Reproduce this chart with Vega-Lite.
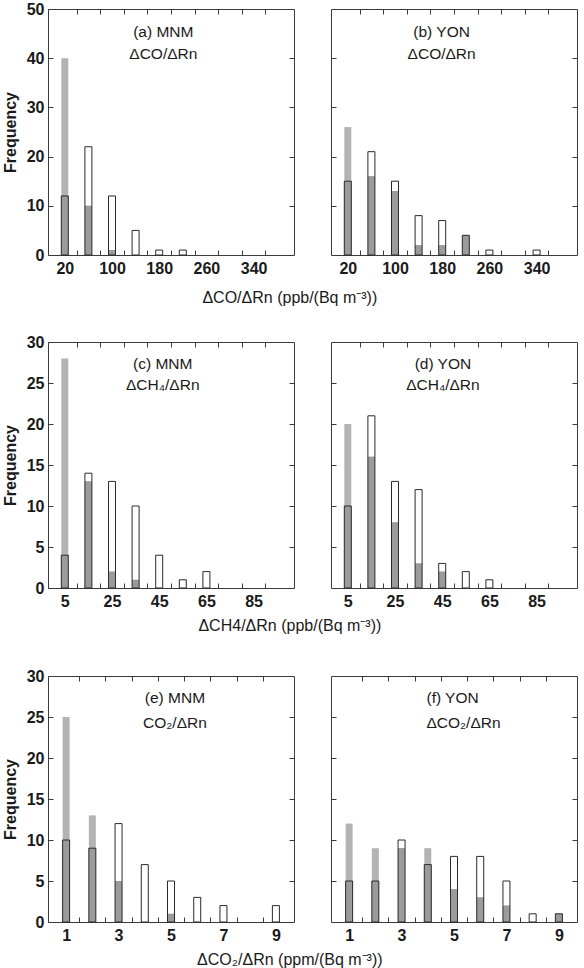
{
  "$schema": "https://vega.github.io/schema/vega-lite/v6.json",
  "padding": {"left": 1, "top": 0, "right": 0, "bottom": 0},
  "background": "white",
  "datasets": {
    "bins": [
      {"panel": "a", "bin": 20, "filled": 40, "both": 12, "outlined": 12},
      {"panel": "a", "bin": 60, "filled": 10, "both": 10, "outlined": 22},
      {"panel": "a", "bin": 100, "filled": 1, "both": 1, "outlined": 12},
      {"panel": "a", "bin": 140, "filled": 0, "both": 0, "outlined": 5},
      {"panel": "a", "bin": 180, "filled": 0, "both": 0, "outlined": 1},
      {"panel": "a", "bin": 220, "filled": 0, "both": 0, "outlined": 1},
      {"panel": "b", "bin": 20, "filled": 26, "both": 15, "outlined": 15},
      {"panel": "b", "bin": 60, "filled": 16, "both": 16, "outlined": 21},
      {"panel": "b", "bin": 100, "filled": 13, "both": 13, "outlined": 15},
      {"panel": "b", "bin": 140, "filled": 2, "both": 2, "outlined": 8},
      {"panel": "b", "bin": 180, "filled": 2, "both": 2, "outlined": 7},
      {"panel": "b", "bin": 220, "filled": 4, "both": 4, "outlined": 4},
      {"panel": "b", "bin": 260, "filled": 0, "both": 0, "outlined": 1},
      {"panel": "b", "bin": 340, "filled": 0, "both": 0, "outlined": 1},
      {"panel": "c", "bin": 5, "filled": 28, "both": 4, "outlined": 4},
      {"panel": "c", "bin": 15, "filled": 13, "both": 13, "outlined": 14},
      {"panel": "c", "bin": 25, "filled": 2, "both": 2, "outlined": 13},
      {"panel": "c", "bin": 35, "filled": 1, "both": 1, "outlined": 10},
      {"panel": "c", "bin": 45, "filled": 0, "both": 0, "outlined": 4},
      {"panel": "c", "bin": 55, "filled": 0, "both": 0, "outlined": 1},
      {"panel": "c", "bin": 65, "filled": 0, "both": 0, "outlined": 2},
      {"panel": "d", "bin": 5, "filled": 20, "both": 10, "outlined": 10},
      {"panel": "d", "bin": 15, "filled": 16, "both": 16, "outlined": 21},
      {"panel": "d", "bin": 25, "filled": 8, "both": 8, "outlined": 13},
      {"panel": "d", "bin": 35, "filled": 3, "both": 3, "outlined": 12},
      {"panel": "d", "bin": 45, "filled": 2, "both": 2, "outlined": 3},
      {"panel": "d", "bin": 55, "filled": 0, "both": 0, "outlined": 2},
      {"panel": "d", "bin": 65, "filled": 0, "both": 0, "outlined": 1},
      {"panel": "e", "bin": 1, "filled": 25, "both": 10, "outlined": 10},
      {"panel": "e", "bin": 2, "filled": 13, "both": 9, "outlined": 9},
      {"panel": "e", "bin": 3, "filled": 5, "both": 5, "outlined": 12},
      {"panel": "e", "bin": 4, "filled": 0, "both": 0, "outlined": 7},
      {"panel": "e", "bin": 5, "filled": 1, "both": 1, "outlined": 5},
      {"panel": "e", "bin": 6, "filled": 0, "both": 0, "outlined": 3},
      {"panel": "e", "bin": 7, "filled": 0, "both": 0, "outlined": 2},
      {"panel": "e", "bin": 9, "filled": 0, "both": 0, "outlined": 2},
      {"panel": "f", "bin": 1, "filled": 12, "both": 5, "outlined": 5},
      {"panel": "f", "bin": 2, "filled": 9, "both": 5, "outlined": 5},
      {"panel": "f", "bin": 3, "filled": 9, "both": 9, "outlined": 10},
      {"panel": "f", "bin": 4, "filled": 9, "both": 7, "outlined": 7},
      {"panel": "f", "bin": 5, "filled": 4, "both": 4, "outlined": 8},
      {"panel": "f", "bin": 6, "filled": 3, "both": 3, "outlined": 8},
      {"panel": "f", "bin": 7, "filled": 2, "both": 2, "outlined": 5},
      {"panel": "f", "bin": 8, "filled": 0, "both": 0, "outlined": 1},
      {"panel": "f", "bin": 9, "filled": 1, "both": 1, "outlined": 1}
    ],
    "labels": [
      {"panel": "a", "site": "(a) MNM", "ratio": "ΔCO/ΔRn"},
      {"panel": "b", "site": "(b) YON", "ratio": "ΔCO/ΔRn"},
      {"panel": "c", "site": "(c) MNM", "ratio": "ΔCH₄/ΔRn"},
      {"panel": "d", "site": "(d) YON", "ratio": "ΔCH₄/ΔRn"},
      {"panel": "e", "site": "(e) MNM", "ratio": "CO₂/ΔRn"},
      {"panel": "f", "site": "(f) YON", "ratio": "ΔCO₂/ΔRn"}
    ]
  },
  "data": {"name": "bins"},
  "config": {
    "font": "Liberation Sans",
    "view": {"stroke": "#3a3a3a", "strokeWidth": 1},
    "axis": {
      "domain": false,
      "grid": false,
      "tickColor": "#3a3a3a",
      "tickSize": -5,
      "tickWidth": 1,
      "labelFont": "Liberation Sans",
      "labelFontSize": 16,
      "labelFontWeight": "bold",
      "labelColor": "#1a1a1a",
      "labelPadding": 10,
      "labelFlush": false,
      "labelOverlap": false,
      "titleFont": "Liberation Sans",
      "titleFontSize": 16,
      "titleFontWeight": "bold",
      "titleColor": "#1a1a1a"
    },
    "title": {"font": "Liberation Sans", "fontSize": 16, "fontWeight": "normal", "color": "#1a1a1a", "anchor": "middle"},
    "text": {"font": "Liberation Sans", "fontSize": 15.5, "color": "#1a1a1a"},
    "concat": {"spacing": 35}
  },
  "spacing": 27,
  "vconcat": [
    {
      "title": {"text": "ΔCO/ΔRn (ppb/(Bq m⁻³))", "orient": "bottom", "offset": 13},
      "hconcat": [
        {
          "width": 246, "height": 246,
          "transform": [{"filter": "datum.panel == 'a'"}],
          "layer": [
            {"mark": {"type": "bar", "size": 7, "orient": "vertical", "color": "#b3b3b3"},
             "encoding": {
               "x": {"field": "bin", "type": "quantitative", "scale": {"domain": [0, 400], "nice": false, "zero": false},
                     "axis": {"orient": "bottom", "title": null, "values": [20, 40, 80, 100, 120, 160, 180, 200, 240, 260, 280, 320, 340, 360],
                              "labelExpr": "(datum.value - 20) % 80 == 0 ? datum.label : ''",
                              "tickOpacity": {"condition": {"test": "datum.value % 40 != 0", "value": 0}, "value": 1}}},
               "y": {"field": "filled", "type": "quantitative", "scale": {"domain": [0, 50], "nice": false},
                     "axis": {"orient": "left", "title": "Frequency", "values": [0, 10, 20, 30, 40, 50], "labelPadding": 9, "titlePadding": 8}}}},
            {"mark": {"type": "bar", "size": 7, "orient": "vertical", "color": "#9b9b9b"},
             "encoding": {
               "x": {"field": "bin", "type": "quantitative", "axis": {"orient": "top", "title": null, "labels": false, "values": [40, 80, 120, 160, 200, 240, 280, 320, 360]}},
               "y": {"field": "both", "type": "quantitative", "axis": {"orient": "right", "title": null, "labels": false, "values": [10, 20, 30, 40]}}}},
            {"mark": {"type": "bar", "size": 7, "orient": "vertical", "fill": "white", "fillOpacity": 0, "stroke": "#2a2a2a", "strokeWidth": 1},
             "encoding": {
               "x": {"field": "bin", "type": "quantitative", "axis": null},
               "y": {"field": "outlined", "type": "quantitative", "axis": null}}},
            {"data": {"name": "labels"}, "transform": [{"filter": "datum.panel == 'a'"}],
             "mark": {"type": "text", "align": "center", "baseline": "middle"},
             "encoding": {"x": {"datum": 187, "type": "quantitative", "axis": null}, "y": {"datum": 45.3, "type": "quantitative", "axis": null}, "text": {"field": "site"}}},
            {"data": {"name": "labels"}, "transform": [{"filter": "datum.panel == 'a'"}],
             "mark": {"type": "text", "align": "center", "baseline": "middle"},
             "encoding": {"x": {"datum": 187, "type": "quantitative", "axis": null}, "y": {"datum": 40.8, "type": "quantitative", "axis": null}, "text": {"field": "ratio"}}}
          ],
          "resolve": {"axis": {"x": "independent", "y": "independent"}}
        },
        {
          "width": 246, "height": 246,
          "transform": [{"filter": "datum.panel == 'b'"}],
          "layer": [
            {"mark": {"type": "bar", "size": 7, "orient": "vertical", "color": "#b3b3b3"},
             "encoding": {
               "x": {"field": "bin", "type": "quantitative", "scale": {"domain": [0, 400], "nice": false, "zero": false},
                     "axis": {"orient": "bottom", "title": null, "values": [20, 40, 80, 100, 120, 160, 180, 200, 240, 260, 280, 320, 340, 360],
                              "labelExpr": "(datum.value - 20) % 80 == 0 ? datum.label : ''",
                              "tickOpacity": {"condition": {"test": "datum.value % 40 != 0", "value": 0}, "value": 1}}},
               "y": {"field": "filled", "type": "quantitative", "scale": {"domain": [0, 50], "nice": false},
                     "axis": {"orient": "left", "title": null, "labels": false, "values": [10, 20, 30, 40]}}}},
            {"mark": {"type": "bar", "size": 7, "orient": "vertical", "color": "#9b9b9b"},
             "encoding": {
               "x": {"field": "bin", "type": "quantitative", "axis": {"orient": "top", "title": null, "labels": false, "values": [40, 80, 120, 160, 200, 240, 280, 320, 360]}},
               "y": {"field": "both", "type": "quantitative", "axis": {"orient": "right", "title": null, "labels": false, "values": [10, 20, 30, 40]}}}},
            {"mark": {"type": "bar", "size": 7, "orient": "vertical", "fill": "white", "fillOpacity": 0, "stroke": "#2a2a2a", "strokeWidth": 1},
             "encoding": {
               "x": {"field": "bin", "type": "quantitative", "axis": null},
               "y": {"field": "outlined", "type": "quantitative", "axis": null}}},
            {"data": {"name": "labels"}, "transform": [{"filter": "datum.panel == 'b'"}],
             "mark": {"type": "text", "align": "center", "baseline": "middle"},
             "encoding": {"x": {"datum": 179, "type": "quantitative", "axis": null}, "y": {"datum": 45.3, "type": "quantitative", "axis": null}, "text": {"field": "site"}}},
            {"data": {"name": "labels"}, "transform": [{"filter": "datum.panel == 'b'"}],
             "mark": {"type": "text", "align": "center", "baseline": "middle"},
             "encoding": {"x": {"datum": 179, "type": "quantitative", "axis": null}, "y": {"datum": 40.8, "type": "quantitative", "axis": null}, "text": {"field": "ratio"}}}
          ],
          "resolve": {"axis": {"x": "independent", "y": "independent"}}
        }
      ]
    },
    {
      "spacing": 33,
      "vconcat": [
        {
          "title": {"text": "ΔCH4/ΔRn (ppb/(Bq m⁻³))", "orient": "bottom", "offset": 8},
          "hconcat": [
            {
              "width": 246, "height": 246,
              "transform": [{"filter": "datum.panel == 'c'"}],
              "layer": [
                {"mark": {"type": "bar", "size": 7, "orient": "vertical", "color": "#b3b3b3"},
                 "encoding": {
                   "x": {"field": "bin", "type": "quantitative", "scale": {"domain": [0, 100], "nice": false, "zero": false},
                         "axis": {"orient": "bottom", "title": null, "values": [5, 10, 20, 25, 30, 40, 45, 50, 60, 65, 70, 80, 85, 90],
                                  "labelExpr": "(datum.value - 5) % 20 == 0 ? datum.label : ''",
                                  "tickOpacity": {"condition": {"test": "datum.value % 10 != 0", "value": 0}, "value": 1}}},
                   "y": {"field": "filled", "type": "quantitative", "scale": {"domain": [0, 30], "nice": false},
                         "axis": {"orient": "left", "title": "Frequency", "values": [0, 5, 10, 15, 20, 25, 30], "labelPadding": 9, "titlePadding": 8}}}},
                {"mark": {"type": "bar", "size": 7, "orient": "vertical", "color": "#9b9b9b"},
                 "encoding": {
                   "x": {"field": "bin", "type": "quantitative", "axis": {"orient": "top", "title": null, "labels": false, "values": [10, 20, 30, 40, 50, 60, 70, 80, 90]}},
                   "y": {"field": "both", "type": "quantitative", "axis": {"orient": "right", "title": null, "labels": false, "values": [5, 10, 15, 20, 25]}}}},
                {"mark": {"type": "bar", "size": 7, "orient": "vertical", "fill": "white", "fillOpacity": 0, "stroke": "#2a2a2a", "strokeWidth": 1},
                 "encoding": {
                   "x": {"field": "bin", "type": "quantitative", "axis": null},
                   "y": {"field": "outlined", "type": "quantitative", "axis": null}}},
                {"data": {"name": "labels"}, "transform": [{"filter": "datum.panel == 'c'"}],
                 "mark": {"type": "text", "align": "center", "baseline": "middle"},
                 "encoding": {"x": {"datum": 46.5, "type": "quantitative", "axis": null}, "y": {"datum": 27.35, "type": "quantitative", "axis": null}, "text": {"field": "site"}}},
                {"data": {"name": "labels"}, "transform": [{"filter": "datum.panel == 'c'"}],
                 "mark": {"type": "text", "align": "center", "baseline": "middle"},
                 "encoding": {"x": {"datum": 46.5, "type": "quantitative", "axis": null}, "y": {"datum": 24.7, "type": "quantitative", "axis": null}, "text": {"field": "ratio"}}}
              ],
              "resolve": {"axis": {"x": "independent", "y": "independent"}}
            },
            {
              "width": 246, "height": 246,
              "transform": [{"filter": "datum.panel == 'd'"}],
              "layer": [
                {"mark": {"type": "bar", "size": 7, "orient": "vertical", "color": "#b3b3b3"},
                 "encoding": {
                   "x": {"field": "bin", "type": "quantitative", "scale": {"domain": [0, 100], "nice": false, "zero": false},
                         "axis": {"orient": "bottom", "title": null, "values": [5, 10, 20, 25, 30, 40, 45, 50, 60, 65, 70, 80, 85, 90],
                                  "labelExpr": "(datum.value - 5) % 20 == 0 ? datum.label : ''",
                                  "tickOpacity": {"condition": {"test": "datum.value % 10 != 0", "value": 0}, "value": 1}}},
                   "y": {"field": "filled", "type": "quantitative", "scale": {"domain": [0, 30], "nice": false},
                         "axis": {"orient": "left", "title": null, "labels": false, "values": [5, 10, 15, 20, 25]}}}},
                {"mark": {"type": "bar", "size": 7, "orient": "vertical", "color": "#9b9b9b"},
                 "encoding": {
                   "x": {"field": "bin", "type": "quantitative", "axis": {"orient": "top", "title": null, "labels": false, "values": [10, 20, 30, 40, 50, 60, 70, 80, 90]}},
                   "y": {"field": "both", "type": "quantitative", "axis": {"orient": "right", "title": null, "labels": false, "values": [5, 10, 15, 20, 25]}}}},
                {"mark": {"type": "bar", "size": 7, "orient": "vertical", "fill": "white", "fillOpacity": 0, "stroke": "#2a2a2a", "strokeWidth": 1},
                 "encoding": {
                   "x": {"field": "bin", "type": "quantitative", "axis": null},
                   "y": {"field": "outlined", "type": "quantitative", "axis": null}}},
                {"data": {"name": "labels"}, "transform": [{"filter": "datum.panel == 'd'"}],
                 "mark": {"type": "text", "align": "center", "baseline": "middle"},
                 "encoding": {"x": {"datum": 45.3, "type": "quantitative", "axis": null}, "y": {"datum": 27.35, "type": "quantitative", "axis": null}, "text": {"field": "site"}}},
                {"data": {"name": "labels"}, "transform": [{"filter": "datum.panel == 'd'"}],
                 "mark": {"type": "text", "align": "center", "baseline": "middle"},
                 "encoding": {"x": {"datum": 45.3, "type": "quantitative", "axis": null}, "y": {"datum": 24.7, "type": "quantitative", "axis": null}, "text": {"field": "ratio"}}}
              ],
              "resolve": {"axis": {"x": "independent", "y": "independent"}}
            }
          ]
        },
        {
          "title": {"text": "ΔCO₂/ΔRn (ppm/(Bq m⁻³))", "orient": "bottom", "offset": 8},
          "hconcat": [
            {
              "width": 246, "height": 246,
              "transform": [{"filter": "datum.panel == 'e'"}],
              "layer": [
                {"mark": {"type": "bar", "size": 7, "orient": "vertical", "color": "#b3b3b3"},
                 "encoding": {
                   "x": {"field": "bin", "type": "quantitative", "scale": {"domain": [0.5, 9.5], "nice": false, "zero": false},
                         "axis": {"orient": "bottom", "title": null, "values": [1, 1.5, 2.5, 3, 3.5, 4.5, 5, 5.5, 6.5, 7, 7.5, 8.5, 9],
                                  "labelExpr": "datum.value % 2 == 1 ? datum.label : ''",
                                  "tickOpacity": {"condition": {"test": "datum.value % 1 == 0", "value": 0}, "value": 1}}},
                   "y": {"field": "filled", "type": "quantitative", "scale": {"domain": [0, 30], "nice": false},
                         "axis": {"orient": "left", "title": "Frequency", "values": [0, 5, 10, 15, 20, 25, 30], "labelPadding": 9, "titlePadding": 8}}}},
                {"mark": {"type": "bar", "size": 7, "orient": "vertical", "color": "#9b9b9b"},
                 "encoding": {
                   "x": {"field": "bin", "type": "quantitative", "axis": {"orient": "top", "title": null, "labels": false, "values": [1.5, 2.5, 3.5, 4.5, 5.5, 6.5, 7.5, 8.5]}},
                   "y": {"field": "both", "type": "quantitative", "axis": {"orient": "right", "title": null, "labels": false, "values": [5, 10, 15, 20, 25]}}}},
                {"mark": {"type": "bar", "size": 7, "orient": "vertical", "fill": "white", "fillOpacity": 0, "stroke": "#2a2a2a", "strokeWidth": 1},
                 "encoding": {
                   "x": {"field": "bin", "type": "quantitative", "axis": null},
                   "y": {"field": "outlined", "type": "quantitative", "axis": null}}},
                {"data": {"name": "labels"}, "transform": [{"filter": "datum.panel == 'e'"}],
                 "mark": {"type": "text", "align": "center", "baseline": "middle"},
                 "encoding": {"x": {"datum": 5.15, "type": "quantitative", "axis": null}, "y": {"datum": 27.35, "type": "quantitative", "axis": null}, "text": {"field": "site"}}},
                {"data": {"name": "labels"}, "transform": [{"filter": "datum.panel == 'e'"}],
                 "mark": {"type": "text", "align": "center", "baseline": "middle"},
                 "encoding": {"x": {"datum": 5.15, "type": "quantitative", "axis": null}, "y": {"datum": 24.3, "type": "quantitative", "axis": null}, "text": {"field": "ratio"}}}
              ],
              "resolve": {"axis": {"x": "independent", "y": "independent"}}
            },
            {
              "width": 246, "height": 246,
              "transform": [{"filter": "datum.panel == 'f'"}],
              "layer": [
                {"mark": {"type": "bar", "size": 7, "orient": "vertical", "color": "#b3b3b3"},
                 "encoding": {
                   "x": {"field": "bin", "type": "quantitative", "scale": {"domain": [0.5, 9.5], "nice": false, "zero": false},
                         "axis": {"orient": "bottom", "title": null, "values": [1, 1.5, 2.5, 3, 3.5, 4.5, 5, 5.5, 6.5, 7, 7.5, 8.5, 9],
                                  "labelExpr": "datum.value % 2 == 1 ? datum.label : ''",
                                  "tickOpacity": {"condition": {"test": "datum.value % 1 == 0", "value": 0}, "value": 1}}},
                   "y": {"field": "filled", "type": "quantitative", "scale": {"domain": [0, 30], "nice": false},
                         "axis": {"orient": "left", "title": null, "labels": false, "values": [5, 10, 15, 20, 25]}}}},
                {"mark": {"type": "bar", "size": 7, "orient": "vertical", "color": "#9b9b9b"},
                 "encoding": {
                   "x": {"field": "bin", "type": "quantitative", "axis": {"orient": "top", "title": null, "labels": false, "values": [1.5, 2.5, 3.5, 4.5, 5.5, 6.5, 7.5, 8.5]}},
                   "y": {"field": "both", "type": "quantitative", "axis": {"orient": "right", "title": null, "labels": false, "values": [5, 10, 15, 20, 25]}}}},
                {"mark": {"type": "bar", "size": 7, "orient": "vertical", "fill": "white", "fillOpacity": 0, "stroke": "#2a2a2a", "strokeWidth": 1},
                 "encoding": {
                   "x": {"field": "bin", "type": "quantitative", "axis": null},
                   "y": {"field": "outlined", "type": "quantitative", "axis": null}}},
                {"data": {"name": "labels"}, "transform": [{"filter": "datum.panel == 'f'"}],
                 "mark": {"type": "text", "align": "left", "baseline": "middle"},
                 "encoding": {"x": {"datum": 3.95, "type": "quantitative", "axis": null}, "y": {"datum": 27.35, "type": "quantitative", "axis": null}, "text": {"field": "site"}}},
                {"data": {"name": "labels"}, "transform": [{"filter": "datum.panel == 'f'"}],
                 "mark": {"type": "text", "align": "left", "baseline": "middle"},
                 "encoding": {"x": {"datum": 3.95, "type": "quantitative", "axis": null}, "y": {"datum": 24.3, "type": "quantitative", "axis": null}, "text": {"field": "ratio"}}}
              ],
              "resolve": {"axis": {"x": "independent", "y": "independent"}}
            }
          ]
        }
      ]
    }
  ]
}
